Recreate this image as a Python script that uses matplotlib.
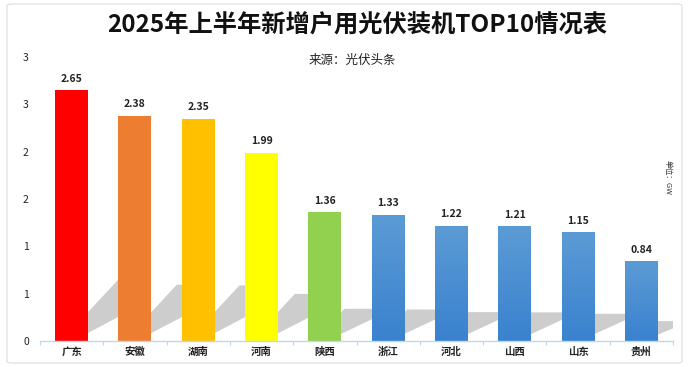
import numpy as np
import matplotlib
matplotlib.use('Agg')
import matplotlib.pyplot as plt
from matplotlib.patches import Polygon, Rectangle, FancyBboxPatch
from matplotlib.ticker import FuncFormatter, FixedLocator
from matplotlib.colors import LinearSegmentedColormap

plt.rcParams['font.family'] = ['Noto Sans CJK SC', 'DejaVu Sans']

# data
provinces = ['广东', '安徽', '湖南', '河南', '陕西', '浙江', '河北', '山西', '山东', '贵州']
values = [2.65, 2.38, 2.35, 1.99, 1.36, 1.33, 1.22, 1.21, 1.15, 0.84]
bar_colors = ['#ff0000', '#ed7d31', '#ffc000', '#ffff00', '#92d050',
              None, None, None, None, None]   # None -> blue gradient
y_ticks = [0, 0.5, 1, 1.5, 2, 2.5, 3]

title = '2025年上半年新增户用光伏装机TOP10情况表'
subtitle = '来源：光伏头条'
unit = '单位：GW'

fig = plt.figure(figsize=(6.89, 3.67), dpi=100)

# outer frame of the card
frame = FancyBboxPatch((7 / 689, 4 / 367), 675 / 689, 359 / 367,
                       boxstyle='round,pad=0,rounding_size=0.006',
                       transform=fig.transFigure, facecolor='none',
                       edgecolor='#dcdcdc', linewidth=0.8, zorder=-1)
fig.patches.append(frame)

ax = fig.add_axes([40 / 689, 26 / 367, 633 / 689, 284 / 367])
ax.set_facecolor('none')

x = np.arange(len(provinces))
width = 0.52
blue_cmap = LinearSegmentedColormap.from_list('blue', ['#3a82cf', '#5b9bd5'])

for i, (xi, v) in enumerate(zip(x, values)):
    left = xi - width / 2
    right = xi + width / 2

    # gray perspective shadow falling to the right of the bar
    dy = 0.25 * v
    x0 = right - 0.425                 # start of the upper (steep) edge
    x1 = right - 0.24                  # start of the lower (flat) edge
    x2 = x0 + dy / 0.72                # top-left corner
    slope_low = dy / (right + 0.613 * v - x1)
    x3 = right + 0.5                   # cut off behind the next bar
    y_low = min(slope_low * (x3 - x1), dy)
    pts = [(x0, 0), (x1, 0), (x3, y_low)]
    if x2 < x3:
        pts += [(x3, dy), (x2, dy)]
    else:
        pts += [(x3, 0.72 * (x3 - x0))]
    shadow = Polygon(pts, closed=True, facecolor='#cdcdcd', edgecolor='none', zorder=1)
    ax.add_patch(shadow)

    if bar_colors[i] is None:
        rect = Rectangle((left, 0), width, v, facecolor='none', edgecolor='none', zorder=3)
        ax.add_patch(rect)
        grad = np.linspace(0, 1, 100).reshape(-1, 1)
        im = ax.imshow(grad, cmap=blue_cmap, origin='lower', aspect='auto',
                       extent=(left, right, 0, v), zorder=2)
        im.set_clip_path(rect)
    else:
        ax.bar(xi, v, width=width, color=bar_colors[i], zorder=2)

    ax.text(xi, v + 0.07, f'{v:.2f}', ha='center', va='bottom',
            fontsize=7.5, fontweight='bold', color='#222222', zorder=4)

ax.set_xlim(-0.5, len(provinces) - 0.5)
ax.set_ylim(0, 3)

ax.set_xticks(x)
ax.set_xticklabels(provinces, fontsize=7.5, fontweight='bold', color='#222222')
ax.xaxis.set_minor_locator(FixedLocator(np.arange(-0.5, len(provinces), 1)))
ax.tick_params(axis='x', which='major', length=0, pad=4)
ax.tick_params(axis='x', which='minor', length=3, color='#bdd7ee', width=0.8)

ax.set_yticks(y_ticks)
ax.yaxis.set_major_formatter(FuncFormatter(lambda v, p: str(int(v + 0.5))))
ax.tick_params(axis='y', length=0, labelsize=7.5, labelcolor='#222222', pad=8)

for s in ['top', 'right', 'left']:
    ax.spines[s].set_visible(False)
ax.spines['bottom'].set_color('#bdd7ee')
ax.spines['bottom'].set_linewidth(1.0)

fig.text(357 / 689, 1 - 26 / 367, title, ha='center', va='center',
         fontsize=17.5, fontweight='bold', color='#111111')
fig.text(352 / 689, 1 - 60 / 367, subtitle, ha='center', va='center',
         fontsize=9, color='#222222')
fig.text(668 / 689, 1 - 177 / 367, unit, ha='center', va='center',
         fontsize=5.5, rotation=-90, color='#333333')

fig.savefig('out.png', dpi=100)
